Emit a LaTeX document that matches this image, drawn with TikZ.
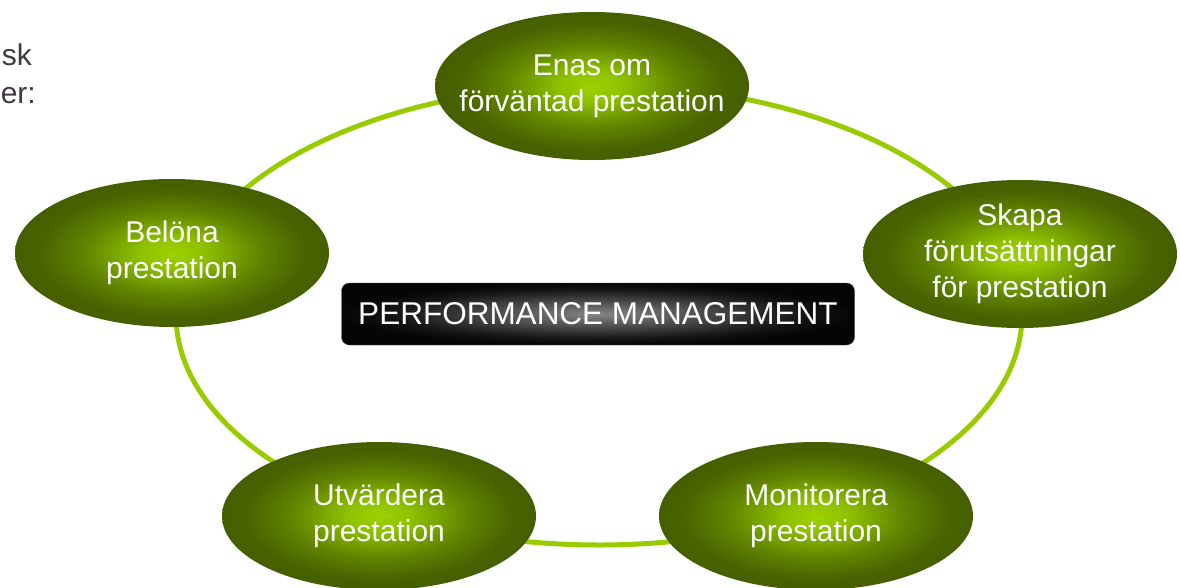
\documentclass[tikz,border=0pt]{standalone}
\usepackage{fontspec}
\setmainfont{Liberation Sans}
\usetikzlibrary{shapes.geometric}
\definecolor{lime}{RGB}{153,204,0}
\definecolor{greytext}{RGB}{64,58,64}
\pgfdeclareradialshading{leafglow}{\pgfpoint{0bp}{0bp}}{rgb(0bp)=(0.62,0.82,0); rgb(5bp)=(0.56,0.76,0); rgb(14bp)=(0.38,0.52,0); rgb(21bp)=(0.29,0.39,0); rgb(25bp)=(0.27,0.37,0); rgb(50bp)=(0.27,0.37,0)}
\pgfdeclareradialshading{inkglow}{\pgfpoint{0bp}{0bp}}{rgb(0bp)=(0.52,0.52,0.52); rgb(10bp)=(0.3,0.3,0.3); rgb(20bp)=(0.08,0.08,0.08); rgb(25bp)=(0.02,0.02,0.02); rgb(50bp)=(0,0,0)}
\tikzset{
  goal/.style={ellipse, shade, shading=leafglow, minimum width=314pt, minimum height=148pt,
    inner xsep=-40pt, inner ysep=-12pt, text=white, align=center, font=\fontsize{30}{36}\selectfont},
  ring/.style={draw=lime, line width=5pt},
  banner/.style={rectangle, rounded corners=8pt, shade, shading=inkglow, draw=black!70,
    minimum width=513pt, minimum height=62pt, text=white, font=\fontsize{31.5}{36}\selectfont},
  cut/.style={text=greytext, inner sep=0, font=\fontsize{30}{36}\selectfont}
}
\begin{document}
\begin{tikzpicture}[x=1pt, y=-1pt]
\useasboundingbox (0,0) rectangle (1180,587);
\coordinate (hub) at (599,315);
\draw[ring] (hub) ellipse [x radius=423, y radius=230];
\node[banner] (core) at (598,314) {PERFORMANCE MANAGEMENT};
\node[goal] (agree) at (592,86) {Enas om\\förväntad prestation};
\node[goal] (enable) at (1020,254) {Skapa\\förutsättningar\\för prestation};
\node[goal] (monitor) at (816,516) {Monitorera\\prestation};
\node[goal] (assess) at (379,516) {Utvärdera\\prestation};
\node[goal] (reward) at (172,253) {Belöna\\prestation};
\node[cut, anchor=base east] (fragsk) at (32,65) {sk};
\node[cut, anchor=base east] (frager) at (36,103) {er:};
\end{tikzpicture}
\end{document}
